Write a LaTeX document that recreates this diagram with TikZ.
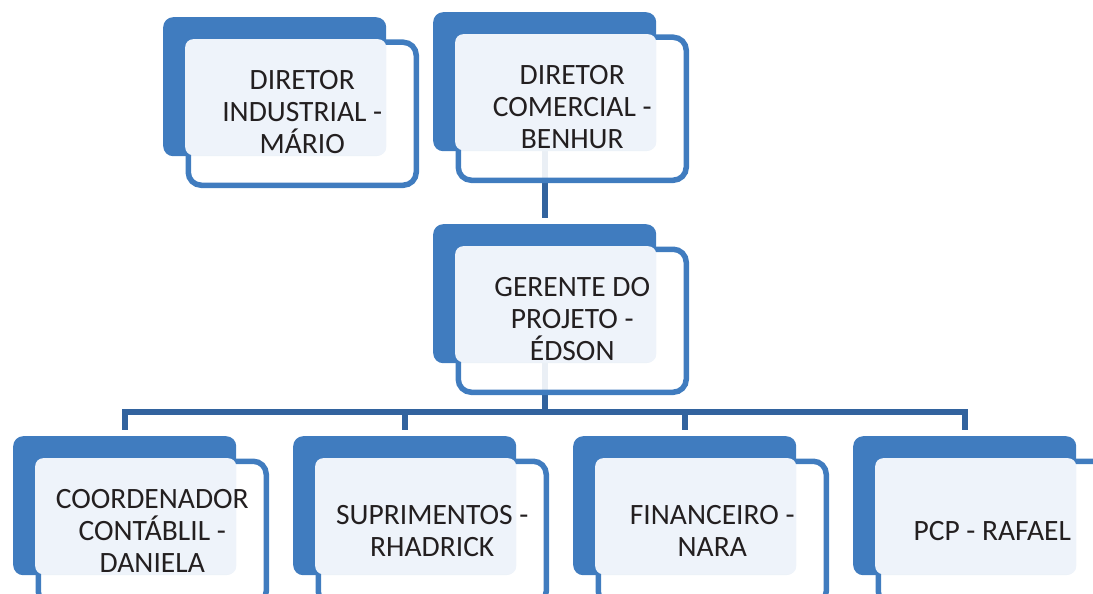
\documentclass[tikz,border=0pt]{standalone}
\usepackage{fontspec}
\setmainfont{Carlito}
\usetikzlibrary{positioning, calc, backgrounds}
\definecolor{boxblue}{RGB}{64, 124, 191}
\definecolor{linkblue}{RGB}{50, 99, 158}
\definecolor{facefill}{RGB}{238, 243, 250}
\definecolor{ink}{RGB}{35, 31, 32}

\begin{document}
\begin{tikzpicture}[x=1pt, y=-1pt]
            \tikzstyle{back} = [rectangle, rounded corners=10pt, fill=boxblue, inner sep=0pt, anchor=north west, minimum width=223pt, minimum height=139pt]
            \tikzstyle{frame} = [rectangle, rounded corners=13pt, draw=boxblue, line width=5.5pt, fill=white, fill opacity=0.9, inner sep=0pt, anchor=north west, minimum width=228pt, minimum height=143pt]
            \tikzstyle{face} = [rectangle, rounded corners=8pt, fill=facefill, inner sep=0pt, anchor=north west, minimum width=201pt, minimum height=116pt]
            \tikzstyle{caption} = [align=center, text=ink, font=\fontsize{29.5}{32}\selectfont]
            \tikzstyle{link} = [line width=6pt, linkblue]

            \useasboundingbox (0,0) rectangle (1093,594);
            \clip (0,0) rectangle (1093,594);

            % one box = blue back, outlined frame, light face, text
            \foreach \n/\x/\y/\t in {mario/163/17/{DIRETOR\\INDUSTRIAL -\\MÁRIO},
                                     benhur/433/12/{DIRETOR\\COMERCIAL -\\BENHUR},
                                     edson/433/224/{GERENTE DO\\PROJETO -\\ÉDSON},
                                     daniela/13/436/{COORDENADOR\\CONTÁBLIL -\\DANIELA},
                                     rhadrick/293/436/{SUPRIMENTOS -\\RHADRICK},
                                     nara/573/436/{FINANCEIRO -\\NARA},
                                     rafael/853/436/{PCP - RAFAEL}} {
                \node[back] (\n) at (\x,\y) {};
                \node[frame] (\n-f) at ([shift={(22.5,22.5)}]\n.north west) {};
                \node[face] (\n-b) at ([shift={(22,22)}]\n.north west) {};
                \node[caption] (\n-t) at ([yshift=2pt]\n-f.center) {\t};
            }

            \begin{scope}[on background layer]
                \draw[link, shorten >=6pt] (benhur) -- (edson);
                \foreach \c in {daniela, rhadrick, nara, rafael}
                    \draw[link, shorten >=6pt] (edson.south) -- ++(0,48.5) -| (\c.north);
            \end{scope}
        \end{tikzpicture}
\end{document}
